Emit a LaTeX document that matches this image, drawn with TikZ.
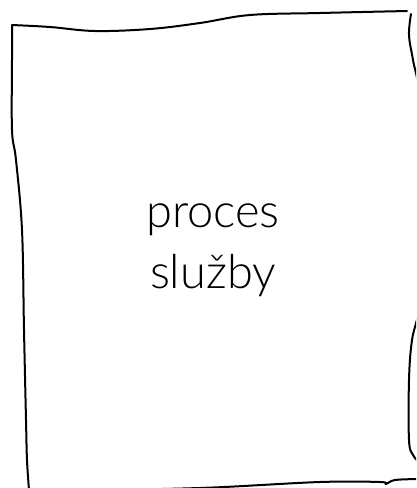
\documentclass[tikz,border=0pt]{standalone}
\usepackage{fontspec}
\setmainfont{Lato Light}
\begin{document}
\begin{tikzpicture}[x=1pt,y=-1pt,
  sketch/.style={line width=2pt,line cap=round,line join=round,black},
  label/.style={font=\fontsize{47}{61}\selectfont,align=center,text=black,inner sep=0pt}]
\useasboundingbox (0,0) rectangle (416,488);
\clip (0,0) rectangle (416,488);
% top edge
\draw[sketch] plot[smooth,tension=0.6] coordinates {(12,25) (50,27) (95,31) (150,29) (200,23) (250,15) (320,13) (407,11)};
% right edge
\draw[sketch] plot[smooth,tension=0.6] coordinates {(411,14) (409,35) (413,60) (420,100) (424,200) (420,300) (412,340) (409,380) (409,440) (413,455) (420,463)};
% bottom edge
\draw[sketch] plot[smooth,tension=0.6] coordinates {(20,493) (120,490) (213,487.5) (320,482) (380,482) (386,484) (395,480) (420,479)};
% left edge
\draw[sketch] plot[smooth,tension=0.6] coordinates {(12,25) (12,60) (12,130) (16,160) (22,230) (24,330) (26,420) (27,460) (29,490)};
\node[label] (t) at (213,250) {proces\\služby};
\end{tikzpicture}
\end{document}
